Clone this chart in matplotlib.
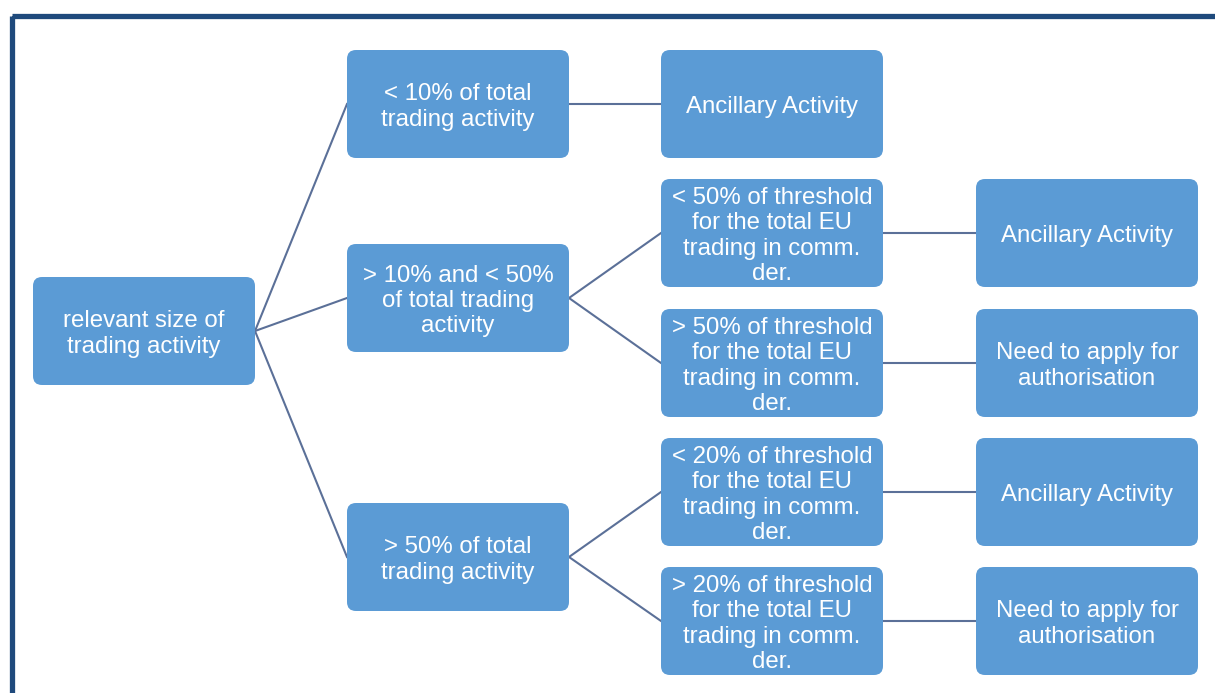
import matplotlib.pyplot as plt
from matplotlib.patches import FancyBboxPatch, Rectangle

# node texts, one list per column
root_label = "relevant size of\ntrading activity"
size_labels = [
    "< 10% of total\ntrading activity",
    "> 10% and < 50%\nof total trading\nactivity",
    "> 50% of total\ntrading activity",
]
threshold_labels = [
    "Ancillary Activity",
    "< 50% of threshold\nfor the total EU\ntrading in comm.\nder.",
    "> 50% of threshold\nfor the total EU\ntrading in comm.\nder.",
    "< 20% of threshold\nfor the total EU\ntrading in comm.\nder.",
    "> 20% of threshold\nfor the total EU\ntrading in comm.\nder.",
]
outcome_labels = [
    "Ancillary Activity",
    "Need to apply for\nauthorisation",
    "Ancillary Activity",
    "Need to apply for\nauthorisation",
]
# which parent each child hangs from
size_parent = [0, 0, 0]
threshold_parent = [0, 1, 1, 2, 2]
outcome_parent = [1, 2, 3, 4]

# layout (pixels)
W, H = 1215, 693
BW, BH = 222, 108
col_x = [33, 347, 661, 976]
root_y = 277
size_y = [50, 244, 503]
thr_y = [50, 179, 309, 438, 567]
out_y = [179, 309, 438, 567]

box_color = "#5B9BD5"
line_color = "#5B7098"
font = "Liberation Sans"

fig = plt.figure(figsize=(W / 100, H / 100), dpi=100)
ax = fig.add_axes([0, 0, 1, 1])
ax.set_xlim(0, W)
ax.set_ylim(H, 0)
ax.axis("off")

# outer frame
ax.add_patch(Rectangle((11.5, 15.5), W + 20, H + 20, fill=False,
                       edgecolor="#1F4A7C", linewidth=3.8, zorder=5))


def draw_box(x, y, label):
    ax.add_patch(FancyBboxPatch((x, y), BW, BH,
                                boxstyle="round,pad=0,rounding_size=9",
                                facecolor=box_color, edgecolor="none", zorder=2))
    ax.text(x + BW / 2, y + BH / 2 + 3, label, ha="center", va="center",
            color="white", fontsize=17.3, family=font, linespacing=1.2, zorder=3)


def connect(x0, y0, x1, y1):
    ax.plot([x0, x1], [y0, y1], color=line_color, linewidth=1.5, zorder=1)


draw_box(col_x[0], root_y, root_label)
for i, lab in enumerate(size_labels):
    draw_box(col_x[1], size_y[i], lab)
    connect(col_x[0] + BW, root_y + BH / 2, col_x[1], size_y[i] + BH / 2)
for i, lab in enumerate(threshold_labels):
    draw_box(col_x[2], thr_y[i], lab)
    p = threshold_parent[i]
    connect(col_x[1] + BW, size_y[p] + BH / 2, col_x[2], thr_y[i] + BH / 2)
for i, lab in enumerate(outcome_labels):
    draw_box(col_x[3], out_y[i], lab)
    p = outcome_parent[i]
    connect(col_x[2] + BW, thr_y[p] + BH / 2, col_x[3], out_y[i] + BH / 2)

fig.savefig("out.png", dpi=100, facecolor="white")
